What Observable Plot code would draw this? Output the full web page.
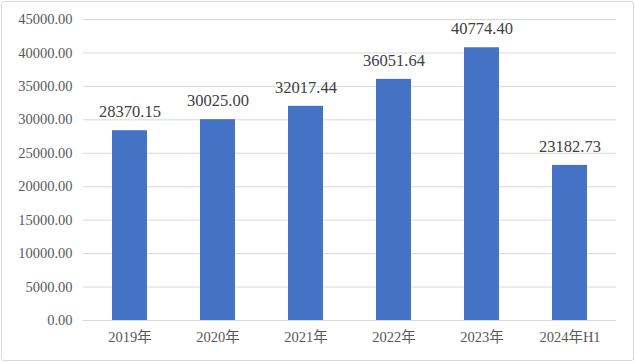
<!DOCTYPE html>
<html>
<head>
<meta charset="utf-8">
<script src="https://cdn.jsdelivr.net/npm/d3@7"></script>
<script src="https://cdn.jsdelivr.net/npm/@observablehq/plot@0.6"></script>
<style>
  html, body { margin: 0; padding: 0; background: #fff; }
  #wrap { position: relative; width: 635px; height: 362px; overflow: hidden; }
  #border { position: absolute; left: 1px; top: 1px; width: 631px; height: 358px; border: 1px solid #d9d9d9; border-radius: 3px; pointer-events: none; }
  svg { display: block; }
</style>
</head>
<body>
<div id="wrap"><div id="border"></div></div>
<script>
const categories = ["2019年", "2020年", "2021年", "2022年", "2023年", "2024年H1"];
const values = [28370.15, 30025.00, 32017.44, 36051.64, 40774.40, 23182.73];
const yTicks = [0, 5000, 10000, 15000, 20000, 25000, 30000, 35000, 40000, 45000];

const data = categories.map((c, i) => ({category: c, value: values[i]}));
const fmt = d3.format(".2f");
const font = "Liberation Serif, Noto Sans CJK SC, serif";

const chart = Plot.plot({
  width: 635,
  height: 362,
  marginLeft: 83,
  marginRight: 19,
  marginTop: 19,
  marginBottom: 42,
  style: {fontFamily: font, fontSize: "14.5px", background: "transparent"},
  x: {domain: categories, paddingInner: 0.6, paddingOuter: 0.3, label: null},
  y: {domain: [0, 45000], label: null},
  marks: [
    Plot.gridY(yTicks, {stroke: "#d9d9d9", strokeOpacity: 1}),
    Plot.axisY(yTicks, {tickSize: 0, tickPadding: 11, tickFormat: fmt, fill: "#595959", fontSize: 14.5, fontFamily: font, label: null}),
    Plot.axisX({tickSize: 0, tickPadding: 11, fill: "#595959", fontSize: 14.5, fontFamily: font, label: null}),
    Plot.barY(data, {x: "category", y: "value", fill: "#4472C4"}),
    Plot.text(data, {x: "category", y: "value", text: d => fmt(d.value), dy: -19, fill: "#404040", fontSize: 16.5, fontFamily: font})
  ]
});
document.getElementById("wrap").prepend(chart);
</script>
</body>
</html>
